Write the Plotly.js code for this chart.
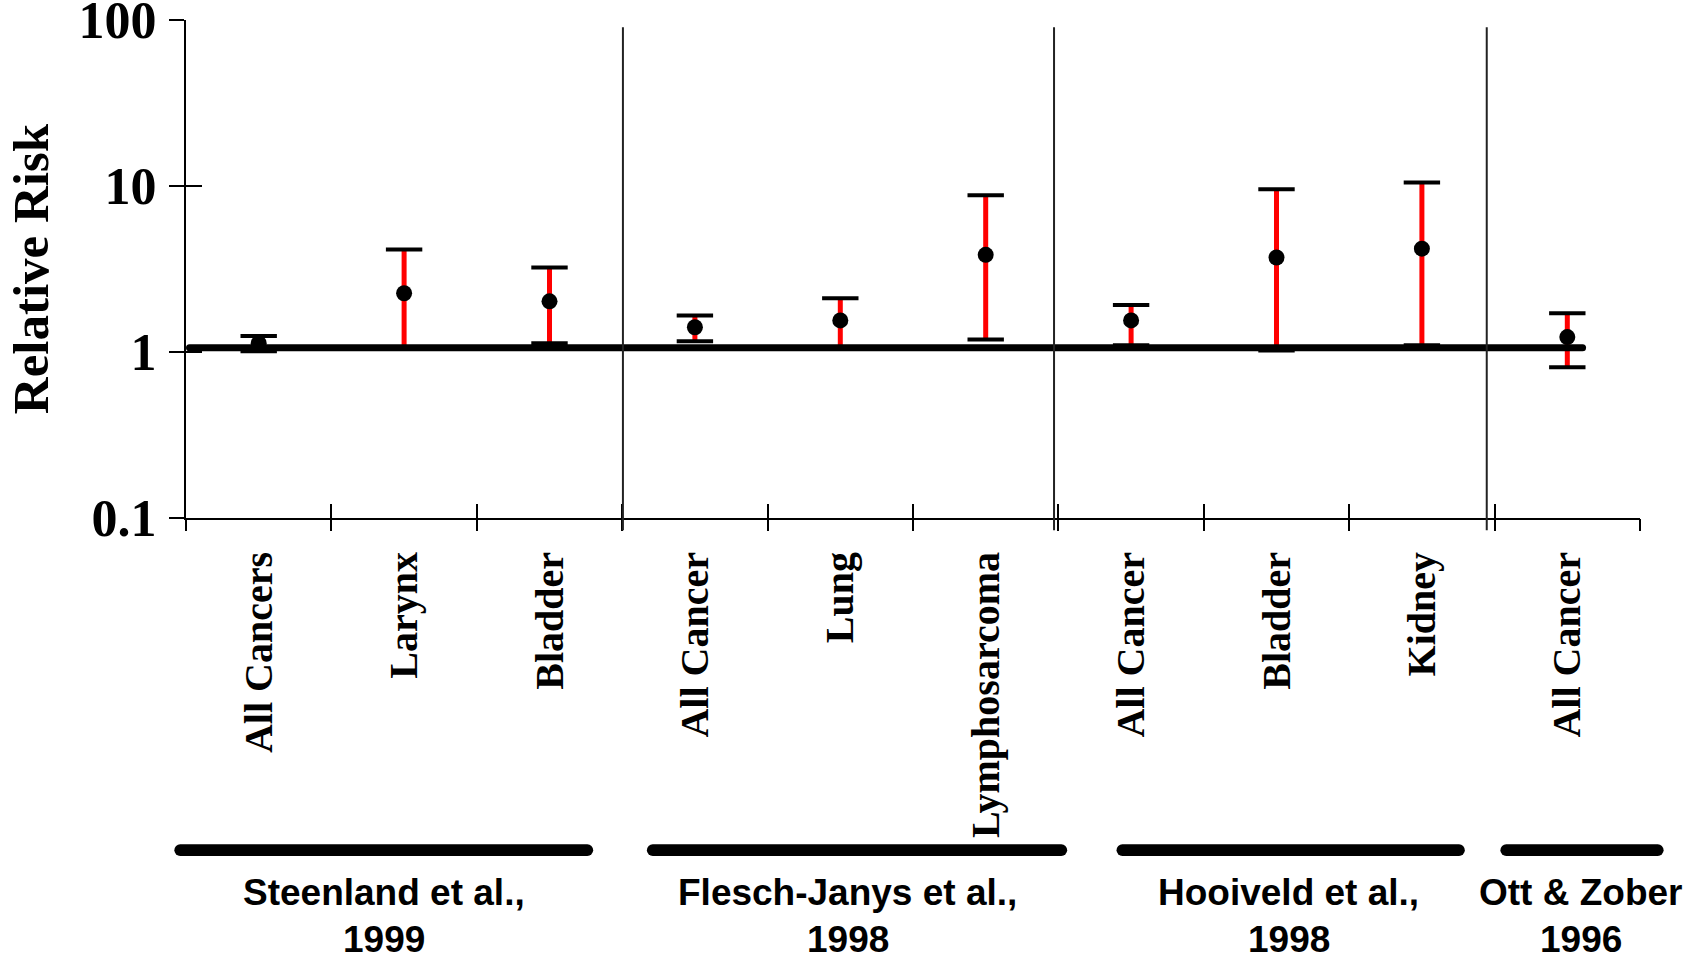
<!DOCTYPE html>
<html><head><meta charset="utf-8">
<script src="https://cdn.plot.ly/plotly-3.0.1.min.js"></script>
<style>html,body{margin:0;padding:0;background:#fff;overflow:hidden}#chart{width:1685px;height:959px;}</style>
</head><body><div id="chart"></div>
<script>
// ---- data ----
const outcomes = ['All Cancers','Larynx','Bladder','All Cancer','Lung','Lymphosarcoma','All Cancer','Bladder','Kidney','All Cancer'];
const relativeRisk = [1.13, 2.26, 2.02, 1.41, 1.55, 3.85, 1.55, 3.71, 4.19, 1.23];
const ciLower      = [1.01, 1.06, 1.13, 1.16, 1.05, 1.19, 1.10, 1.02, 1.10, 0.81];
const ciUpper      = [1.25, 4.15, 3.23, 1.66, 2.11, 8.80, 1.92, 9.57, 10.5, 1.71];
const studyNames = ['Steenland et al.,', 'Flesch-Janys et al.,', 'Hooiveld et al.,', 'Ott & Zober'];
const studyYears = ['1999', '1998', '1998', '1996'];
const yTickVals = [0.1, 1, 10, 100];
const yTickText = ['0.1', '1', '10', '100'];
const referenceRR = 1.06;

// ---- layout helpers (positions / styles) ----
const studyCenterX = [0.1365, 0.4551, 0.7583, 0.9594];
const studyBarX = [[-0.004, 0.276], [0.321, 0.602], [0.644, 0.8755], [0.908, 1.0122]];
const separatorX = [0.3005, 0.597, 0.8946];

const idx = outcomes.map((_, i) => i);
const boundaries = outcomes.map((_, i) => i - 0.5).concat([outcomes.length - 0.5]);
const serif = 'Liberation Serif, Times New Roman, serif';
const sans = 'Liberation Sans, Arial, sans-serif';

const stems = {
  x: idx, y: relativeRisk, mode: 'markers', type: 'scatter',
  marker: {size: 1, opacity: 0},
  error_y: {type: 'data', symmetric: false,
    array: ciUpper.map((u, i) => u - relativeRisk[i]),
    arrayminus: ciLower.map((l, i) => relativeRisk[i] - l),
    color: '#ff0000', thickness: 5, width: 0},
  hoverinfo: 'skip', showlegend: false
};
const caps = {
  x: idx.concat(idx), y: ciLower.concat(ciUpper), mode: 'markers', type: 'scatter',
  marker: {symbol: 'line-ew', size: 26, line: {width: 4, color: '#000'}, color: '#000'},
  hoverinfo: 'skip', showlegend: false
};
const points = {
  x: idx, y: relativeRisk, mode: 'markers', type: 'scatter',
  marker: {symbol: 'circle', size: 16, color: '#000'},
  showlegend: false
};
const ghost2 = {x: [0], y: [1], xaxis: 'x2', yaxis: 'y2', mode: 'markers', marker: {opacity: 0}, hoverinfo: 'skip', showlegend: false};
const ghost3 = {x: [0], y: [1], xaxis: 'x3', yaxis: 'y2', mode: 'markers', marker: {opacity: 0}, hoverinfo: 'skip', showlegend: false};

const shapes = [];
shapes.push({type: 'line', xref: 'paper', yref: 'y', x0: 0.0024, x1: 0.9605, y0: referenceRR, y1: referenceRR,
  line: {color: '#000', width: 7}, layer: 'above'});
separatorX.forEach(x => shapes.push({type: 'line', xref: 'paper', yref: 'paper', x0: x, x1: x, y0: -0.0247, y1: 0.9855,
  line: {color: '#222', width: 2}, layer: 'above'}));
studyBarX.forEach(s => shapes.push({type: 'line', xref: 'paper', yref: 'paper', x0: s[0], x1: s[1], y0: -0.667, y1: -0.667,
  line: {color: '#000', width: 11.7}}));

const labelFont = {family: sans, size: 37, weight: 'bold', color: '#000'};
const annotations = [];
studyNames.forEach((t, i) => {
  annotations.push({text: t, xref: 'paper', yref: 'paper', x: studyCenterX[i], y: -0.7515,
    xanchor: 'center', yanchor: 'middle', showarrow: false, font: labelFont});
  annotations.push({text: studyYears[i], xref: 'paper', yref: 'paper', x: studyCenterX[i], y: -0.8455,
    xanchor: 'center', yanchor: 'middle', showarrow: false, font: labelFont});
});

const xRange = [-0.5, outcomes.length - 0.5];
const yRange = [-1.00001, 2.00001];
const layout = {
  width: 1685, height: 959,
  margin: {l: 186, r: 45, t: 19.5, b: 441.3, autoexpand: false},
  paper_bgcolor: '#fff', plot_bgcolor: '#fff',
  showlegend: false,
  xaxis: {type: 'linear', range: xRange, tickvals: idx, ticktext: outcomes, ticks: '',
    tickangle: -90, ticklabelstandoff: 16, showgrid: false, zeroline: false,
    showline: true, linecolor: '#000', linewidth: 2, ticklabeloverflow: 'allow',
    tickfont: {family: serif, size: 40, weight: 'bold', color: '#000'}, automargin: false},
  xaxis2: {type: 'linear', overlaying: 'x', anchor: 'y', range: xRange, tickvals: boundaries,
    ticks: 'outside', ticklen: 12, tickwidth: 2, tickcolor: '#000', showticklabels: false,
    showgrid: false, zeroline: false, showline: false, automargin: false},
  xaxis3: {type: 'linear', overlaying: 'x', anchor: 'y', range: xRange, tickvals: boundaries,
    ticks: 'inside', ticklen: 14, tickwidth: 2, tickcolor: '#000', showticklabels: false,
    showgrid: false, zeroline: false, showline: false, automargin: false},
  yaxis: {type: 'log', range: yRange, tickvals: yTickVals, ticktext: yTickText,
    ticks: 'outside', ticklen: 15, tickwidth: 2, tickcolor: '#000', ticklabelstandoff: 2,
    ticklabeloverflow: 'allow',
    showgrid: false, zeroline: false, showline: true, linecolor: '#000', linewidth: 2,
    tickfont: {family: serif, size: 52, weight: 'bold', color: '#000'},
    title: {text: 'Relative Risk', standoff: 14, font: {family: serif, size: 51, weight: 'bold', color: '#000'}},
    automargin: false},
  yaxis2: {type: 'log', overlaying: 'y', anchor: 'x', range: yRange, tickvals: yTickVals,
    ticks: 'inside', ticklen: 16, tickwidth: 2, tickcolor: '#000', showticklabels: false,
    showgrid: false, zeroline: false, showline: false, automargin: false},
  shapes: shapes,
  annotations: annotations
};

Plotly.newPlot('chart', [stems, caps, ghost2, ghost3, points], layout, {staticPlot: true}).then(() => {
  document.querySelectorAll('#chart .shapelayer path').forEach(p => {
    const i = +p.getAttribute('data-index');
    if (i === 0 || i >= 1 + separatorX.length) p.style.strokeLinecap = 'round';
  });
});
</script>
</body></html>
